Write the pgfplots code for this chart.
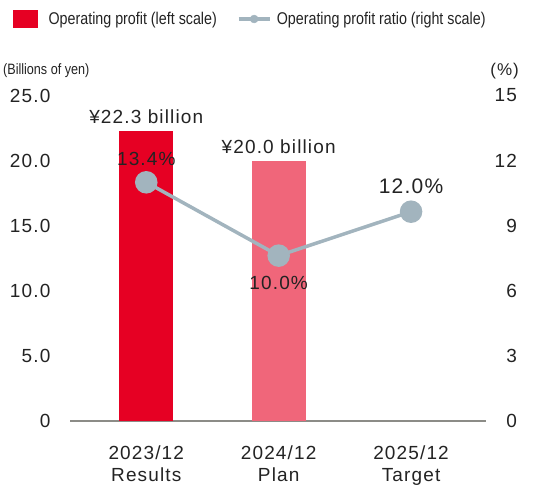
\documentclass[border=0pt]{standalone}
\usepackage{fontspec}
\setmainfont{Liberation Sans}[LetterSpace=6]
\newfontfamily\condfont{Liberation Sans}[FakeStretch=0.84]
\usepackage{pgfplots}
\pgfplotsset{compat=1.18}
\definecolor{barA}{RGB}{230,0,35}
\definecolor{barB}{RGB}{240,102,122}
\definecolor{lineC}{RGB}{162,180,190}
\definecolor{axisC}{RGB}{140,140,135}
\definecolor{txt}{RGB}{35,35,35}
\begin{document}
\begin{tikzpicture}[font=\fontsize{19}{22}\selectfont, text=txt]
\begin{axis}[name=main,
 scale only axis, width=416pt, height=325.5pt,
 xmin=-0.576, xmax=2.566, ymin=0, ymax=25,
 axis x line=bottom, axis y line=left,
 x axis line style={-, draw=axisC, line width=1.2pt},
 y axis line style={draw=none},
 major tick style={draw=none},
 xtick={0,1,2}, xticklabels={{2023/12\\Results},{2024/12\\Plan},{2025/12\\Target}},
 xticklabel style={align=center, inner sep=0pt, anchor=north, text=txt},
 xticklabel shift=22pt,
 ytick={0,5,10,15,20,25}, yticklabels={0,5.0,10.0,15.0,20.0,25.0},
 yticklabel style={inner sep=0pt, anchor=east, text=txt},
 yticklabel shift=17.3pt,
 clip=false,
 legend columns=2,
 legend style={at={(-0.137,1.235)}, anchor=west, draw=none, fill=none, inner sep=0pt,
   font=\condfont\fontsize{17}{20}\selectfont, text=txt,
   nodes={inner sep=0pt},
   /tikz/every even column/.append style={column sep=20pt}},
]
\addlegendimage{legend image code/.code={\fill[barA] (0pt,-8.5pt) rectangle (24pt,8.5pt); \path (35pt,0pt);}}
\addlegendentry{Operating profit (left scale)}
\addlegendimage{legend image code/.code={\draw[lineC, line width=3.5pt] (0pt,0pt)--(31pt,0pt); \fill[lineC] (15.5pt,0pt) circle (4pt); \path (38pt,0pt);}}
\addlegendentry{Operating profit ratio (right scale)}
\addplot[forget plot, ybar, bar shift=0pt, bar width=54pt, fill=barA, draw=none,
  nodes near coords, point meta=explicit symbolic,
  every node near coord/.append style={anchor=center, yshift=14pt, text=txt}]
  coordinates {(0,22.3) [¥22.3 billion]};
\addplot[forget plot, ybar, bar shift=0pt, bar width=54pt, fill=barB, draw=none,
  nodes near coords, point meta=explicit symbolic,
  every node near coord/.append style={anchor=center, yshift=14pt, text=txt}]
  coordinates {(1,20.0) [¥20.0 billion]};
\end{axis}
\begin{axis}[
 scale only axis, width=416pt, height=325.5pt,
 xmin=-0.576, xmax=2.566, ymin=0, ymax=15,
 axis x line=none, axis y line=right,
 y axis line style={draw=none},
 major tick style={draw=none},
 ytick={0,3,6,9,12,15}, yticklabels={0,3,6,9,12,15},
 yticklabel style={inner sep=0pt, anchor=east, text=txt},
 yticklabel shift=29pt,
 clip=false,
]
\addplot[lineC, line width=3.5pt, mark=*, mark size=9.5pt, mark options={fill=lineC, draw=none}]
  coordinates {(0,11.0) (1,7.62) (2,9.645)};
\node[yshift=23pt, inner sep=0pt] at (axis cs:0,11.0) {13.4\%};
\node[yshift=-27pt, inner sep=0pt] at (axis cs:1,7.62) {10.0\%};
\node[yshift=25pt, inner sep=0pt, font=\fontsize{21}{24}\selectfont] at (axis cs:2,9.645) {12.0\%};
\end{axis}
\node[anchor=west, inner sep=0pt, font=\condfont\fontsize{15}{18}\selectfont] at ([xshift=-67pt,yshift=24.5pt]main.north west) {(Billions of yen)};
\node[anchor=east, inner sep=0pt, font=\fontsize{17}{20}\selectfont] at ([xshift=33pt,yshift=24.5pt]main.north east) {(\%)};
\pgfresetboundingbox
\path[use as bounding box] ([xshift=-70pt,yshift=-63pt]main.south west) rectangle ([xshift=53pt,yshift=95.5pt]main.north east);
\end{tikzpicture}
\end{document}
